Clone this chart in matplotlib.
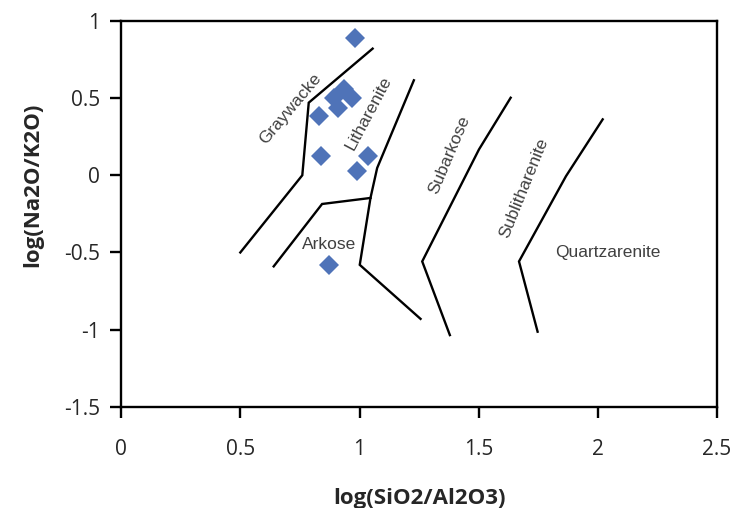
import matplotlib
matplotlib.use("Agg")
import matplotlib.pyplot as plt

# Sample data: log(SiO2/Al2O3), log(Na2O/K2O)
sample_x = [0.983, 0.933, 0.97, 0.895, 0.908, 0.828, 0.84, 1.034, 0.99, 0.874]
sample_y = [0.89, 0.558, 0.50, 0.50, 0.435, 0.383, 0.123, 0.123, 0.026, -0.578]

# Classification boundaries (Pettijohn et al.)
bound_a_x = [0.50, 0.76, 0.787, 1.055]
bound_a_y = [-0.50, 0.00, 0.47, 0.82]
bound_b_x = [0.64, 0.843, 1.046]
bound_b_y = [-0.59, -0.186, -0.147]
bound_c_x = [1.228, 1.074, 1.046, 1.001, 1.256]
bound_c_y = [0.615, 0.047, -0.147, -0.58, -0.93]
bound_d_x = [1.634, 1.501, 1.263, 1.379]
bound_d_y = [0.502, 0.167, -0.558, -1.035]
bound_e_x = [2.02, 1.866, 1.669, 1.747]
bound_e_y = [0.362, -0.006, -0.558, -1.013]

field_names = ["Graywacke", "Litharenite", "Arkose", "Subarkose", "Sublitharenite", "Quartzarenite"]
field_x = [0.71, 1.04, 0.874, 1.375, 1.69, 2.04]
field_y = [0.43, 0.40, -0.45, 0.135, -0.08, -0.50]
field_rot = [50, 62, 0, 67, 68, 0]

xticks = [0, 0.5, 1, 1.5, 2, 2.5]
xtick_labels = ["0", "0.5", "1", "1.5", "2", "2.5"]
yticks = [-1.5, -1, -0.5, 0, 0.5, 1]
ytick_labels = ["-1.5", "-1", "-0.5", "0", "0.5", "1"]

fig = plt.figure(figsize=(7.34, 5.08), dpi=100)
ax = fig.add_axes([0.165, 0.199, 0.812, 0.760])

for bx, by in [(bound_a_x, bound_a_y), (bound_b_x, bound_b_y), (bound_c_x, bound_c_y),
               (bound_d_x, bound_d_y), (bound_e_x, bound_e_y)]:
    ax.plot(bx, by, color="black", lw=1.7, solid_joinstyle="miter")

ax.plot(sample_x, sample_y, linestyle="none", marker="D", ms=10,
        color="#4f73b8", markeredgewidth=0)

for name, tx, ty, rot in zip(field_names, field_x, field_y, field_rot):
    ax.text(tx, ty, name, rotation=rot, ha="center", va="center",
            fontsize=12.5, color="#404040", family="Liberation Sans",
            rotation_mode="anchor")

ax.set_xlim(0, 2.5)
ax.set_ylim(-1.5, 1)
ax.set_xticks(xticks)
ax.set_xticklabels(xtick_labels)
ax.set_yticks(yticks)
ax.set_yticklabels(ytick_labels)
for lab in ax.get_xticklabels() + ax.get_yticklabels():
    lab.set_family("Open Sans")
    lab.set_fontsize(15)
    lab.set_color("#262626")
ax.tick_params(axis="both", direction="out", length=8, width=1.7, color="black")
ax.tick_params(axis="x", pad=15)
ax.tick_params(axis="y", pad=7)
for sp in ax.spines.values():
    sp.set_linewidth(1.7)

ax.set_xlabel("log(SiO2/Al2O3)", fontsize=16, fontweight="bold", family="Open Sans",
              labelpad=20, color="#262626")
ax.set_ylabel("log(Na2O/K2O)", fontsize=16, fontweight="bold", family="Open Sans",
              labelpad=15, color="#262626")
ax.yaxis.label.set_y(0.575)

fig.savefig("out.png", dpi=100)
